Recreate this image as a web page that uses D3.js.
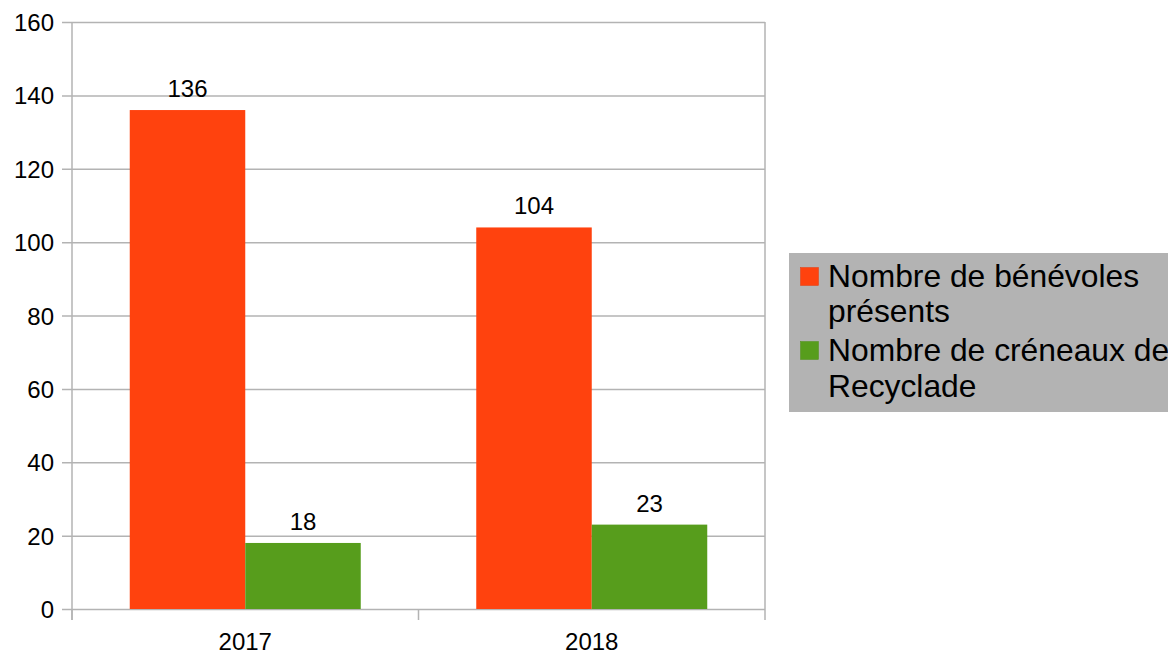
<!DOCTYPE html>
<html><head><meta charset="utf-8">
<script src="https://cdn.jsdelivr.net/npm/d3@7"></script>
<style>body{margin:0;background:#fff}svg{display:block;font-family:"Liberation Sans",Arial,sans-serif}</style>
</head><body><svg id="c" width="1168" height="654"></svg>
<script>
const categories = ["2017", "2018"];
const seriesNames = ["Nombre de bénévoles présents", "Nombre de créneaux de Recyclade"];
const legendLines = [["Nombre de bénévoles", "présents"], ["Nombre de créneaux de", "Recyclade"]];
const benevoles = [136, 104];
const creneaux = [18, 23];
const yTicks = [0, 20, 40, 60, 80, 100, 120, 140, 160];
const colors = ["#ff420e", "#579d1c"];

const svg = d3.select("#c");
const L = 72, R = 765, T = 22, B = 609;
const y = d3.scaleLinear().domain([0, 160]).range([B, T]);
const x = d3.scaleBand().domain(categories).range([L, R]);
const bw = x.bandwidth();
const xs = d3.scaleBand().domain(seriesNames).range([bw / 6, bw * 5 / 6]);
const grid = "#b3b3b3";

// gridlines
svg.append("g").selectAll("line").data(yTicks).join("line")
  .attr("x1", L - 10).attr("x2", R).attr("y1", d => y(d) + 0.5).attr("y2", d => y(d) + 0.5)
  .attr("stroke", grid).attr("stroke-width", 1.5);
// right border
svg.append("line").attr("x1", R).attr("x2", R).attr("y1", T).attr("y2", B).attr("stroke", grid).attr("stroke-width", 1.5);

// bars
const data = categories.map((c, i) => ({c, vals: [benevoles[i], creneaux[i]]}));
const g = svg.append("g");
data.forEach(d => {
  d.vals.forEach((v, j) => {
    const bx = x(d.c) + xs(seriesNames[j]);
    g.append("rect").attr("x", bx).attr("width", xs.bandwidth())
      .attr("y", y(v)).attr("height", y(0) - y(v)).attr("fill", colors[j]);
    g.append("text").attr("x", bx + xs.bandwidth() / 2).attr("y", y(v) - 13)
      .attr("text-anchor", "middle").attr("font-size", 24).attr("fill", "#000").text(v);
  });
});

// y axis line
svg.append("line").attr("x1", L).attr("x2", L).attr("y1", T).attr("y2", B + 11).attr("stroke", grid).attr("stroke-width", 1.5);
// x category ticks
const bounds = [L, ...categories.slice(1).map(c => x(c)), R];
svg.append("g").selectAll("line").data(bounds).join("line")
  .attr("x1", d => d).attr("x2", d => d).attr("y1", B).attr("y2", B + 11)
  .attr("stroke", grid).attr("stroke-width", 1.5);

// y tick labels
svg.append("g").selectAll("text").data(yTicks).join("text")
  .attr("x", 54).attr("y", d => y(d) + 9).attr("text-anchor", "end")
  .attr("font-size", 24).attr("fill", "#000").text(d => d);
// x labels
svg.append("g").selectAll("text").data(categories).join("text")
  .attr("x", d => x(d) + bw / 2).attr("y", 650).attr("text-anchor", "middle")
  .attr("font-size", 24).attr("fill", "#000").text(d => d);

// legend
const lg = svg.append("g");
lg.append("rect").attr("x", 789).attr("y", 253).attr("width", 400).attr("height", 159).attr("fill", "#b3b3b3");
const baselines = [[287, 322], [361, 397]];
legendLines.forEach((lines, i) => {
  lg.append("rect").attr("x", 800.5).attr("y", baselines[i][0] - 19.5).attr("width", 18).attr("height", 18)
    .attr("fill", colors[i]).attr("stroke", d3.color(colors[i]).darker(0.3)).attr("stroke-width", 0.5);
  lines.forEach((t, k) => {
    lg.append("text").attr("x", 828).attr("y", baselines[i][k]).attr("font-size", 31.8)
      .attr("fill", "#000").text(t);
  });
});
</script></body></html>
